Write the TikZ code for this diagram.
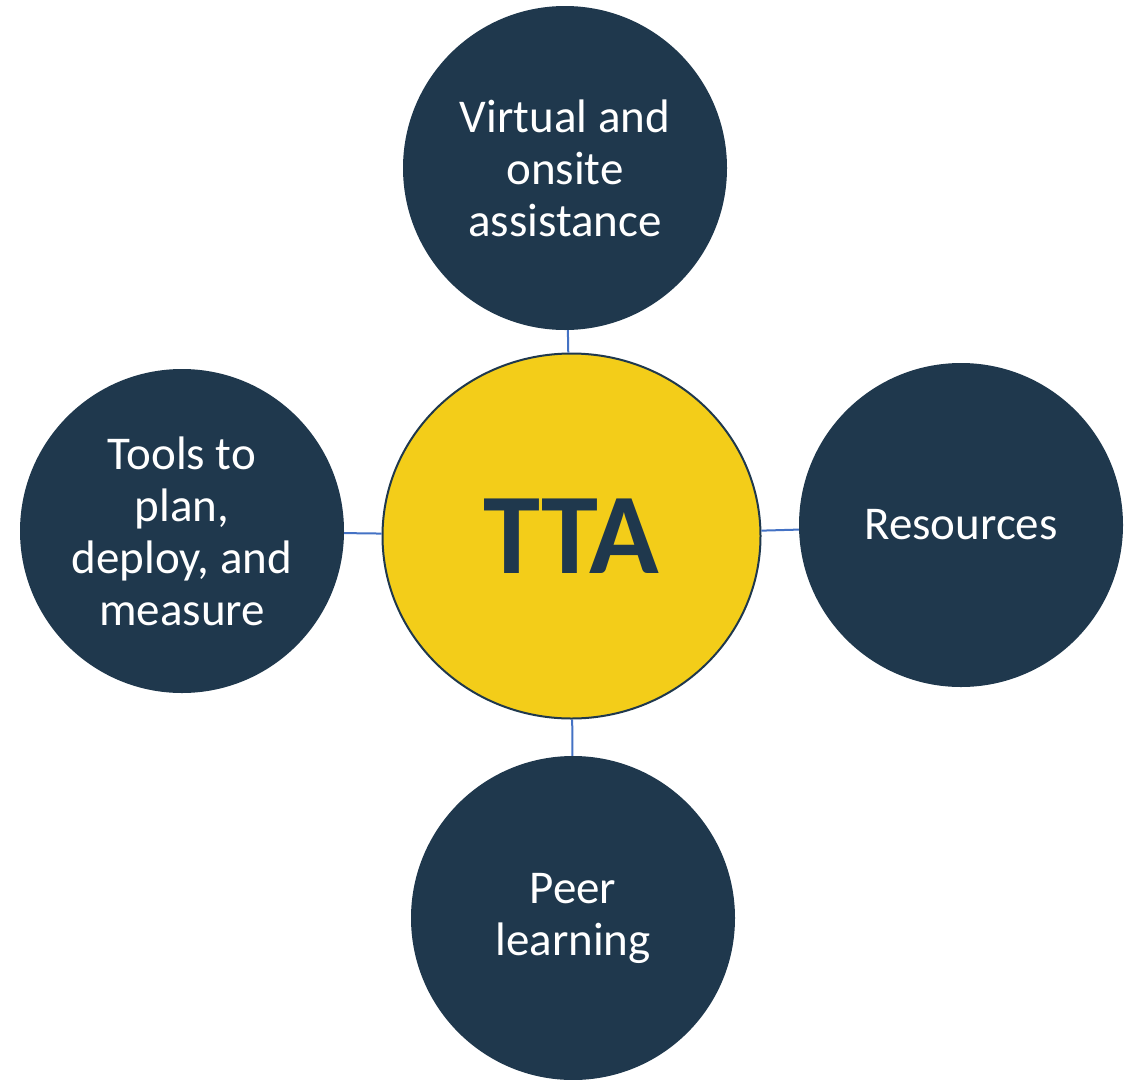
\documentclass[tikz,border=0pt]{standalone}
\usepackage{fontspec}
\setmainfont{Carlito}
\usetikzlibrary{shapes.geometric}

\definecolor{navy}{HTML}{1F384D}
\definecolor{gold}{HTML}{F3CD19}
\definecolor{linkblue}{HTML}{4472C4}

\tikzset{
  spoke/.style={circle, fill=navy, minimum size=324pt, inner sep=0pt, text=white,
    align=center, font=\fontsize{47}{52}\selectfont},
  hub/.style={ellipse, draw=navy, line width=2pt, fill=gold, minimum width=378pt,
    minimum height=365pt, inner sep=0pt, text=navy, font=\fontsize{115}{120}\selectfont\bfseries},
  link/.style={draw=linkblue, line width=2pt}
}

\begin{document}
\begin{tikzpicture}[x=1pt,y=-1pt]
		\useasboundingbox (0,0) rectangle (1134,1079);
		
		\node[hub] (tta) at (571.5,536) {TTA};
		
		\node[spoke] (assist) at (565,168) {Virtual and\\onsite\\assistance};
		\node[spoke] (tools) at (182,531) {Tools to\\plan,\\deploy, and\\measure};
		\node[spoke] (res) at (961,525) {Resources};
		\node[spoke] (peer) at (573,918) {Peer\\learning};
		
		% short links to the hub
		\draw[link] (assist) -- (tta);
		\draw[link] (tools) -- (tta);
		\draw[link] (res) -- (tta);
		\draw[link] (peer) -- (tta);
\end{tikzpicture}
\end{document}
